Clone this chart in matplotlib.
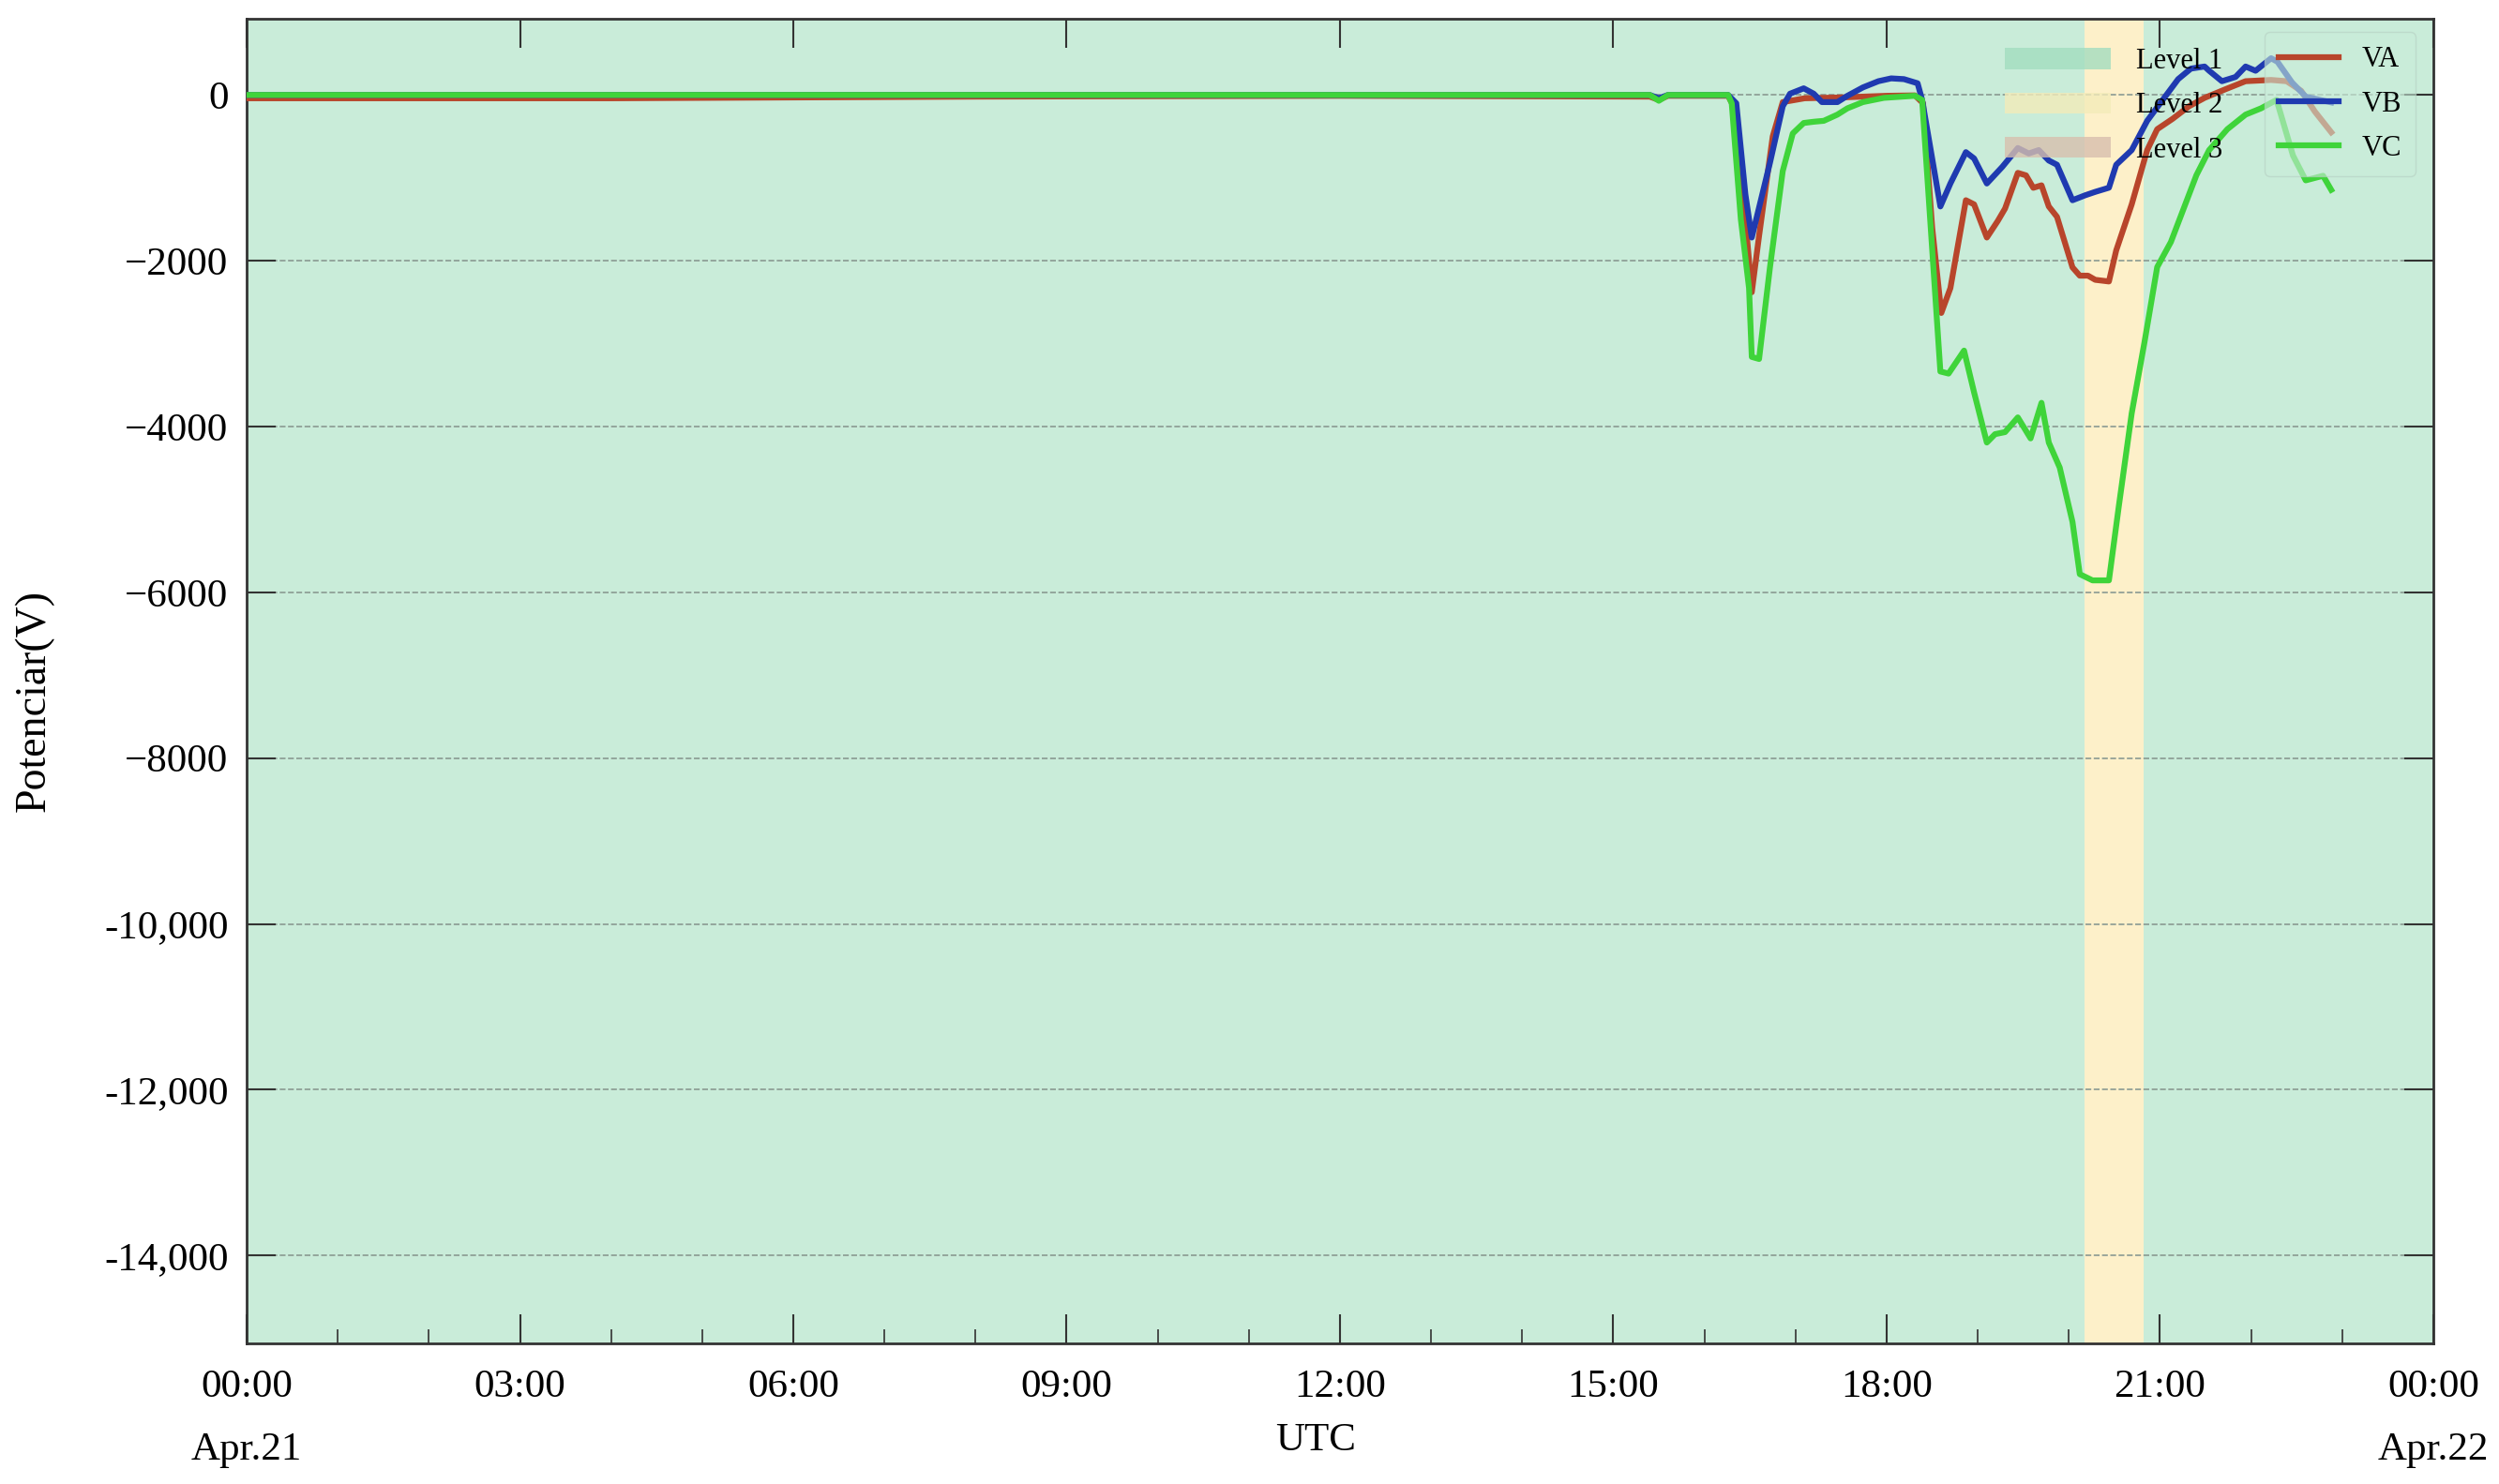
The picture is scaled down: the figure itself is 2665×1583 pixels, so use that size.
import matplotlib.pyplot as plt
import matplotlib.ticker as mticker
from matplotlib.patches import Patch
from matplotlib.lines import Line2D

# hours after 00:00 UTC Apr.21, potential in V
va_t = [0, 4, 8, 12, 15.4, 15.5, 15.6, 16.26, 16.35, 16.45, 16.52, 16.6, 16.75,
        16.86, 17.1, 17.5, 18.0, 18.31, 18.4, 18.5, 18.6, 18.7, 18.87, 18.96,
        19.1, 19.22, 19.3, 19.44, 19.53, 19.61, 19.7, 19.78, 19.87, 20.04,
        20.12, 20.21, 20.29, 20.44, 20.52, 20.69, 20.86, 20.97, 21.14, 21.32,
        21.49, 21.71, 21.94, 22.22, 22.39, 22.55, 22.7, 22.88]
va_v = [-40, -40, -20, -10, -20, -60, -10, -10, -200, -1500, -2380, -1700, -500,
        -86, -40, -30, -10, -5, -100, -1600, -2630, -2330, -1270, -1320,
        -1720, -1520, -1370, -940, -970, -1120, -1090, -1345, -1470, -2080,
        -2180, -2180, -2230, -2250, -1875, -1320, -665, -413, -287, -136,
        -35, 65, 166, 181, 166, 50, -200, -450]

vb_t = [0, 8, 15.4, 15.5, 15.6, 16.26, 16.35, 16.45, 16.52, 16.72, 16.86, 16.94,
        17.09, 17.2, 17.29, 17.46, 17.57, 17.74, 17.91, 18.05, 18.19, 18.34,
        18.39, 18.59, 18.7, 18.87, 18.96, 19.1, 19.27, 19.44, 19.56, 19.67,
        19.78, 19.87, 20.04, 20.18, 20.29, 20.44, 20.52, 20.69, 20.86, 21.03,
        21.2, 21.34, 21.49, 21.54, 21.68, 21.83, 21.94, 22.05, 22.22, 22.29,
        22.45, 22.6, 22.88]
vb_v = [0, 0, 0, -40, 0, 0, -100, -1200, -1720, -816, -136, 15,
        80, 15, -86, -86, -10, 91, 166, 200, 191, 141,
        -60, -1345, -1068, -690, -766, -1068, -867, -640, -706, -665,
        -791, -842, -1270, -1210, -1169, -1119, -842, -665, -312, -60,
        191, 318, 343, 292, 166, 217, 343, 292, 443, 400,
        150, -20, -90]

vc_t = [0, 8, 15.4, 15.5, 15.6, 16.26, 16.3, 16.4, 16.49, 16.52, 16.6, 16.72,
        16.86, 16.97, 17.09, 17.2, 17.31, 17.46, 17.57, 17.74, 17.97, 18.31,
        18.39, 18.59, 18.68, 18.85, 18.96, 19.1, 19.19, 19.3, 19.44, 19.58,
        19.7, 19.78, 19.9, 20.04, 20.12, 20.26, 20.44, 20.55, 20.69, 20.83,
        20.97, 21.12, 21.26, 21.4, 21.54, 21.74, 21.94, 22.11, 22.28, 22.46,
        22.6, 22.79, 22.88]
vc_v = [0, 0, 0, -70, 0, 0, -100, -1500, -2330, -3160, -3185, -2076,
        -917, -464, -338, -323, -312, -237, -161, -86, -35, -10,
        -60, -3336, -3361, -3084, -3588, -4193, -4092, -4067, -3890, -4143,
        -3714, -4193, -4495, -5150, -5781, -5856, -5856, -4949, -3840, -2984,
        -2076, -1774, -1371, -968, -665, -413, -237, -161, -60, -730,
        -1030, -975, -1145]

# alert level periods (start h, end h, level)
level_spans = [(0, 20.17, 1), (20.17, 20.82, 2), (20.82, 24, 1)]
level_colors = {1: '#c9ecd9', 2: '#fdf0c9', 3: '#d8bfae'}
level_patch_colors = ['#a3ddbf', '#f3ebb9', '#d8bfae']

plt.rcParams['font.family'] = ['Liberation Serif', 'DejaVu Serif']

fig = plt.figure(figsize=(26.65, 15.83), dpi=100)
ax = fig.add_axes([0.0987, 0.0948, 0.875, 0.8926])

for start, end, lvl in level_spans:
    ax.axvspan(start, end, color=level_colors[lvl], lw=0, zorder=0)

ax.plot(va_t, va_v, color='#b8452b', lw=4.5, zorder=3)
ax.plot(vb_t, vb_v, color='#1f3ab0', lw=4.5, zorder=4)
ax.plot(vc_t, vc_v, color='#3fd43a', lw=4.5, zorder=5)

ax.set_xlim(0, 24)
ax.set_ylim(-15060, 920)

# x axis: hours, major every 3h, minor every hour
ax.xaxis.set_major_locator(mticker.MultipleLocator(3))
ax.xaxis.set_minor_locator(mticker.MultipleLocator(1))

def fmt_time(x, pos):
    h = int(round(x)) % 24
    s = f"{h:02d}:00"
    if abs(x) < 1e-6:
        s += "\nApr.21"
    elif abs(x - 24) < 1e-6:
        s += "\nApr.22"
    return s

ax.xaxis.set_major_formatter(mticker.FuncFormatter(fmt_time))

ax.yaxis.set_major_locator(mticker.FixedLocator(list(range(0, -15000, -2000))))

def fmt_volt(v, pos):
    v = int(round(v))
    if v == 0:
        return "0"
    if abs(v) < 10000:
        return "\u2212" + str(abs(v))
    return "-" + f"{abs(v):,}"

ax.yaxis.set_major_formatter(mticker.FuncFormatter(fmt_volt))

ax.tick_params(axis='both', which='major', direction='in', length=22, width=1.5,
               labelsize=31, pad=14, color='#333333')
ax.tick_params(axis='x', which='major', pad=20)
ax.tick_params(axis='x', which='minor', direction='in', length=11, width=1.2,
               color='#333333')
ax.tick_params(axis='x', which='both', top=True)
ax.tick_params(axis='x', which='minor', top=False)
ax.tick_params(axis='y', which='both', right=True)
for lab in ax.get_xticklabels():
    lab.set_linespacing(1.95)

ax.grid(axis='y', linestyle='--', color='#8a9a92', lw=1.2, zorder=1)
ax.set_axisbelow(True)
for sp in ax.spines.values():
    sp.set_linewidth(2)
    sp.set_color('#333333')

ax.set_xlabel("UTC", fontsize=31)
ax.xaxis.set_label_coords(0.489, -0.0736)
ax.xaxis.label.set_va('center')
ax.set_ylabel("Potenciar(V)", fontsize=33)
ax.yaxis.set_label_coords(-0.097, 0.485)
ax.yaxis.label.set_va('center')

# legends
lvl_handles = [Patch(facecolor=c, edgecolor='none', alpha=0.8) for c in level_patch_colors]
leg1 = ax.legend(lvl_handles, ['Level 1', 'Level 2', 'Level 3'], loc='upper left',
                 bbox_to_anchor=(0.804, 0.978), frameon=False, fontsize=22,
                 handlelength=3.7, handleheight=0.75, handletextpad=0.9,
                 labelspacing=0.6, borderpad=0, borderaxespad=0)
leg1.set_zorder(10)
ax.add_artist(leg1)

line_handles = [Line2D([0], [0], color='#b8452b', lw=4.5),
                Line2D([0], [0], color='#1f3ab0', lw=4.5),
                Line2D([0], [0], color='#3fd43a', lw=4.5)]
leg2 = ax.legend(line_handles, ['VA', 'VB', 'VC'], loc='upper right',
                 bbox_to_anchor=(0.992, 0.990), fontsize=22, handlelength=2.1,
                 handletextpad=0.8, labelspacing=0.6, borderpad=0.5,
                 borderaxespad=0, frameon=True, fancybox=True, framealpha=0.6,
                 facecolor='#c9ecd9', edgecolor='#b5cfc2')
leg2.set_zorder(10)

fig.savefig("out.png", dpi=100)
